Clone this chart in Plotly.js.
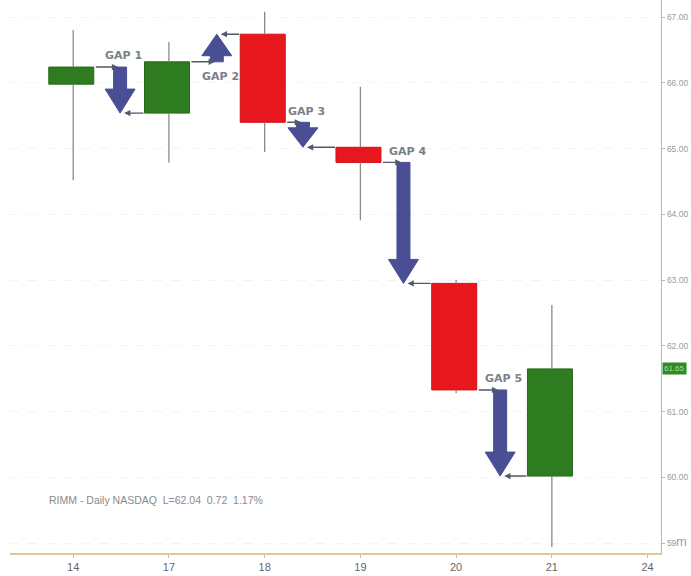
<!DOCTYPE html>
<html>
<head>
<meta charset="utf-8">
<script src="https://cdn.plot.ly/plotly-3.0.1.min.js"></script>
<style>html,body{margin:0;padding:0;background:#fff;}#chart{width:691px;height:576px;}</style>
</head>
<body>
<div id="chart"></div>
<script>
// ---- data ----
const dates = ['14', '17', '18', '19', '20', '21', '24'];
const openP  = [65.98, 65.54, 66.74, 65.02, 62.95, 60.02];
const highP  = [66.80, 66.62, 67.08, 65.94, 63.00, 62.62];
const lowP   = [64.52, 64.79, 64.95, 63.91, 61.28, 58.94];
const closeP = [66.24, 66.32, 65.40, 64.79, 61.33, 61.65];
const gapLabels = ['GAP 1', 'GAP 2', 'GAP 3', 'GAP 4', 'GAP 5'];
const gapXOffset = [0.49, 0.50, 0.40, 0.45, 0.46];
const yTickVals = [59, 60, 61, 62, 63, 64, 65, 66, 67];
const yTickText = ['59', '60.00', '61.00', '62.00', '63.00', '64.00', '65.00', '66.00', '67.00'];
const infoText = 'RIMM - Daily NASDAQ  L=62.04  0.72  1.17%';

// ---- geometry ----
const W = 691, H = 576;
const M = {l: 10, r: 30, t: 0, b: 23};
const xr = [-0.66, 6.14];
const yr = [58.85, 67.26];
const xPer = (W - M.l - M.r) / (xr[1] - xr[0]);
const yPer = (H - M.t - M.b) / (yr[1] - yr[0]);
const px2x = p => p / xPer;
const px2y = p => p / yPer;

const idx = dates.map((d, i) => i);
const cIdx = openP.map((d, i) => i);

// wicks (upper and lower segments)
const wx = [], wy = [];
cIdx.forEach(i => {
  const top = Math.max(openP[i], closeP[i]), bot = Math.min(openP[i], closeP[i]);
  wx.push(i, i, null, i, i, null);
  wy.push(highP[i], top, null, bot, lowP[i], null);
});

const GREEN = '#2e7b20', GREEN_L = '#276a1a';
const RED = '#e8171d', RED_L = '#d21218';
const up = cIdx.map(i => closeP[i] >= openP[i]);

const traces = [
  {type: 'scatter', mode: 'lines', x: wx, y: wy,
   line: {color: '#8a8a8a', width: 1.3}, hoverinfo: 'skip'},
  {type: 'bar', x: cIdx.map(i => i - 0.02),
   base: cIdx.map(i => Math.min(openP[i], closeP[i])),
   y: cIdx.map(i => Math.abs(closeP[i] - openP[i])),
   width: 0.47,
   marker: {color: up.map(u => u ? GREEN : RED),
            line: {color: up.map(u => u ? GREEN_L : RED_L), width: 1}},
   hoverinfo: 'skip'}
];

// gap arrows
const shapes = [];
const annotations = [];
const ARROW = '#4a4e95';
const sw = px2x(6.5), hw = px2x(15);
for (let g = 0; g < gapLabels.length; g++) {
  const y0 = closeP[g], y1 = openP[g + 1];
  const cx = g + gapXOffset[g];
  const dir = y1 < y0 ? -1 : 1;
  const len = Math.abs(y1 - y0);
  const headLen = Math.min(px2y(24), 0.78 * len);
  const yh = y1 - dir * headLen;
  const path = `M${cx - sw},${y0} L${cx + sw},${y0} L${cx + sw},${yh} L${cx + hw},${yh} L${cx},${y1} L${cx - hw},${yh} L${cx - sw},${yh} Z`;
  shapes.push({type: 'path', xref: 'x', yref: 'y', path: path,
               fillcolor: ARROW, line: {color: ARROW, width: 1}, layer: 'above'});
  // connector from previous body to arrow start
  annotations.push({xref: 'x', yref: 'y', axref: 'x', ayref: 'y',
    x: cx - sw * 0.3, y: y0, ax: g + 0.22, ay: y0, text: '', showarrow: true,
    arrowhead: 2, arrowsize: 0.9, arrowwidth: 1.4, arrowcolor: '#505a6a', standoff: 0});
  // connector from next body to arrow tip
  annotations.push({xref: 'x', yref: 'y', axref: 'x', ayref: 'y',
    x: cx + px2x(4), y: y1, ax: g + 1 - 0.25, ay: y1, text: '', showarrow: true,
    arrowhead: 2, arrowsize: 0.9, arrowwidth: 1.4, arrowcolor: '#505a6a', standoff: 0});
  // label
  annotations.push({xref: 'x', yref: 'y', x: cx + 0.04,
    y: dir < 0 ? y0 + 0.17 : y0 - 0.22, text: '<b>' + gapLabels[g] + '</b>',
    showarrow: false, xanchor: 'center', yanchor: 'middle',
    font: {family: 'DejaVu Sans, Verdana, sans-serif', size: 11, color: '#7b7f86'}});
}

// info text
annotations.push({xref: 'paper', yref: 'paper', x: (47 - M.l) / (W - M.l - M.r), y: 0.096,
  xanchor: 'left', yanchor: 'middle', showarrow: false, text: infoText,
  font: {family: 'Liberation Sans, Arial, sans-serif', size: 10.5, color: '#8a8a8a'}});
// last price tag
annotations.push({xref: 'paper', yref: 'y', x: 1, y: closeP[closeP.length - 1],
  xanchor: 'left', yanchor: 'middle', showarrow: false, xshift: 1,
  text: closeP[closeP.length - 1].toFixed(2), bgcolor: '#2f8a22', borderpad: 1,
  font: {family: 'Liberation Sans, Arial, sans-serif', size: 8, color: '#a8e09a'}});
// cut-off unit
annotations.push({xref: 'paper', yref: 'y', x: 1, y: 59, xanchor: 'left', yanchor: 'middle',
  showarrow: false, xshift: 13, yshift: 2, text: 'm',
  font: {family: 'Liberation Sans, Arial, sans-serif', size: 13, color: '#a0a0a0'}});

const layout = {
  width: W, height: H,
  margin: M,
  paper_bgcolor: '#ffffff', plot_bgcolor: '#ffffff',
  showlegend: false, hovermode: false, bargap: 0,
  xaxis: {
    range: xr, tickmode: 'array', tickvals: idx, ticktext: dates,
    showgrid: false, zeroline: false,
    showline: true, linecolor: '#e2c79a', linewidth: 2,
    ticks: 'outside', ticklen: 3, tickcolor: '#d8b88a',
    tickfont: {family: 'Liberation Sans Narrow, Arial Narrow, sans-serif', size: 11, color: '#666'}
  },
  yaxis: {
    range: yr, side: 'right', tickmode: 'array', tickvals: yTickVals, ticktext: yTickText,
    showgrid: true, gridcolor: '#f4f4f4', griddash: 'dash', zeroline: false,
    showline: true, linecolor: '#d9aaaa', linewidth: 1.2,
    ticks: 'outside', ticklen: 3, tickcolor: '#d9aaaa',
    tickfont: {family: 'Liberation Sans, Arial, sans-serif', size: 8.5, color: '#9a9a9a'}
  },
  shapes: shapes,
  annotations: annotations
};

Plotly.newPlot('chart', traces, layout, {displayModeBar: false, staticPlot: true});
</script>
</body>
</html>
